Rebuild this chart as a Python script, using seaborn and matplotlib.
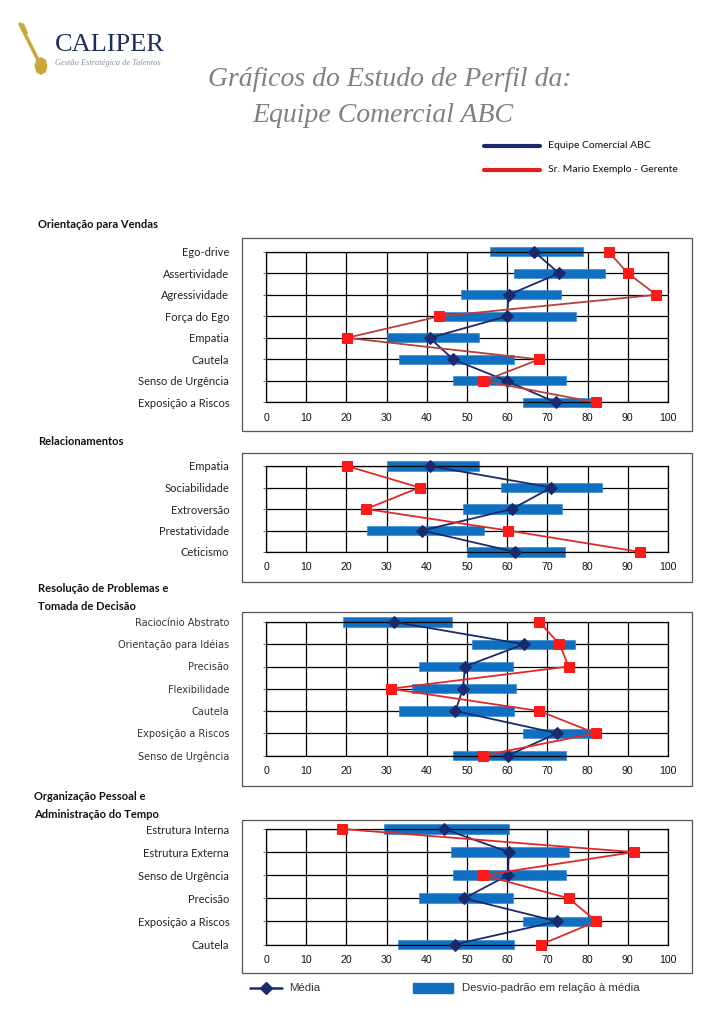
import matplotlib
matplotlib.use('Agg')
import matplotlib.pyplot as plt
from matplotlib.lines import Line2D
from matplotlib.patches import Rectangle, RegularPolygon
import seaborn as sns

# Orientação para Vendas
cats1 = ['Ego-drive', 'Assertividade', 'Agressividade', 'Força do Ego',
         'Empatia', 'Cautela', 'Senso de Urgência', 'Exposição a Riscos']
media1 = [66.7, 72.9, 60.4, 59.9, 40.7, 46.6, 59.9, 72.1]
lo1 = [55.8, 61.7, 48.5, 44.0, 30.0, 33.0, 46.4, 63.9]
hi1 = [78.8, 84.4, 73.4, 77.2, 53.0, 61.7, 74.6, 80.9]
ger1 = [85.2, 90.0, 97.1, 43.1, 20.1, 68.0, 54.1, 82.2]

# Relacionamentos
cats2 = ['Empatia', 'Sociabilidade', 'Extroversão', 'Prestatividade', 'Ceticismo']
media2 = [40.8, 71.0, 61.2, 38.9, 62.0]
lo2 = [30.0, 58.4, 48.9, 25.0, 50.0]
hi2 = [53.0, 83.7, 73.6, 54.3, 74.3]
ger2 = [20.1, 38.2, 24.9, 60.2, 93.1]

# Resolução de Problemas e Tomada de Decisão
cats3 = ['Raciocínio Abstrato', 'Orientação para Idéias', 'Precisão', 'Flexibilidade',
         'Cautela', 'Exposição a Riscos', 'Senso de Urgência']
media3 = [31.9, 64.1, 49.5, 49.0, 47.1, 72.4, 60.2]
lo3 = [19.1, 51.2, 38.0, 36.3, 33.0, 63.9, 46.4]
hi3 = [46.2, 76.9, 61.4, 62.2, 61.7, 81.5, 74.6]
ger3 = [68.0, 73.0, 75.3, 31.0, 68.0, 82.0, 54.1]

# Organização Pessoal e Administração do Tempo
cats4 = ['Estrutura Interna', 'Estrutura Externa', 'Senso de Urgência', 'Precisão',
         'Exposição a Riscos', 'Cautela']
media4 = [44.3, 60.4, 60.2, 49.3, 72.4, 46.9]
lo4 = [29.4, 46.1, 46.4, 38.0, 63.9, 32.9]
hi4 = [60.4, 75.4, 74.6, 61.4, 81.5, 61.7]
ger4 = [19.0, 91.5, 54.1, 75.3, 82.2, 68.4]

x_ticks = [0, 10, 20, 30, 40, 50, 60, 70, 80, 90, 100]

NAVY = '#1b2a6b'
BAR = '#0f6fc0'
RED = '#ff1a1a'

W, H = 728, 1030

sns.set_style('white')
plt.rcParams['font.family'] = ['Lato', 'DejaVu Sans']

fig = plt.figure(figsize=(W / 100, H / 100), dpi=100)


def fx(x):
    return x / W


def fy(y):
    return 1 - y / H


def panel(cats, media, lo, hi, ger, row_top, row_bot, box, label_font, redline):
    ax = fig.add_axes([fx(266), fy(row_bot), fx(668) - fx(266), (row_bot - row_top) / H])
    pos = list(range(len(cats)))
    # desvio-padrão bars
    ax.barh(pos, [h - l for l, h in zip(lo, hi)], left=lo, height=0.42,
            color=BAR, edgecolor='#3a8ad0', linewidth=0.5, clip_on=False, zorder=2)
    sns.lineplot(x=media, y=pos, sort=False, orient='y', ax=ax, color=NAVY, lw=1.3,
                 marker='D', markersize=6.5, markerfacecolor=NAVY, markeredgecolor=NAVY,
                 clip_on=False, zorder=3)
    sns.lineplot(x=ger, y=pos, sort=False, orient='y', ax=ax, color=redline, lw=1.3,
                 marker='s', markersize=7, markerfacecolor=RED, markeredgecolor=RED,
                 clip_on=False, zorder=4)
    ax.set_xlim(0, 100)
    ax.set_ylim(len(cats) - 1, 0)
    ax.set_xticks(x_ticks)
    ax.set_yticks(pos)
    ax.set_yticklabels(cats, **label_font)
    ax.set_xticklabels([str(t) for t in x_ticks], fontsize=7.6, family='Liberation Sans',
                       color='#111111')
    ax.tick_params(axis='x', length=0, pad=7.5)
    ax.tick_params(axis='y', length=2.5, width=0.6, direction='out', color='#555555', pad=24,
                   left=True)
    ax.grid(True, color='black', lw=0.9)
    ax.set_axisbelow(True)
    for s in ax.spines.values():
        s.set_color('black')
        s.set_linewidth(0.9)
    ax.set_xlabel('')
    ax.set_ylabel('')
    x0, y0, x1, y1 = box
    fig.add_artist(Rectangle((fx(x0), fy(y1)), fx(x1) - fx(x0), (y1 - y0) / H,
                             transform=fig.transFigure, fill=False,
                             edgecolor='#555555', lw=0.9))
    return ax


calibri = dict(fontsize=8, family=['Lato', 'DejaVu Sans'], color='#222222')
verdana = dict(fontsize=7, family='DejaVu Sans', color='#333333')

panel(cats1, media1, lo1, hi1, ger1, 251.7, 402.5, (242, 238, 692, 431), calibri, '#b8403a')
panel(cats2, media2, lo2, hi2, ger2, 466, 552, (242, 453, 692, 582), calibri, '#e02a2a')
panel(cats3, media3, lo3, hi3, ger3, 622, 755.5, (242, 612, 692, 786), verdana, '#e02a2a')
panel(cats4, media4, lo4, hi4, ger4, 829, 944.5, (242, 820, 692, 973), calibri, '#e02a2a')

# section titles
sect = dict(fontsize=8, fontweight='bold', color='#111111', va='center', ha='left')
fig.text(fx(38), fy(224), 'Orientação para Vendas', **sect)
fig.text(fx(38), fy(441), 'Relacionamentos', **sect)
fig.text(fx(38), fy(588), 'Resolução de Problemas e', **sect)
fig.text(fx(38), fy(606), 'Tomada de Decisão', **sect)
fig.text(fx(34), fy(797), 'Organização Pessoal e', **sect)
fig.text(fx(34), fy(815), 'Administração do Tempo', **sect)

# header title
title = dict(fontsize=20, style='italic', family='Liberation Serif', color='#808080',
             ha='center', va='center')
fig.text(fx(390), fy(80), 'Gráficos do Estudo de Perfil da:', **title)
fig.text(fx(383), fy(116), 'Equipe Comercial ABC', **title)

# logo
fig.text(fx(55), fy(45), 'CALIPER', fontsize=19, family='Liberation Serif',
         color='#1f2d5c', va='center', ha='left')
fig.text(fx(55), fy(63), 'Gestão Estratégica de Talentos', fontsize=6, style='italic',
         family='Liberation Serif', color='#8a8f9c', va='center', ha='left')
fig.add_artist(Line2D([fx(20), fx(40)], [fy(24), fy(64)], transform=fig.transFigure,
                      color='#c9a83a', lw=2.5))
fig.add_artist(Line2D([fx(23), fx(27)], [fy(24), fy(33)], transform=fig.transFigure,
                      color='#c9a83a', lw=1.5))
fig.add_artist(RegularPolygon((fx(41), fy(66)), 8, radius=0.008, transform=fig.transFigure,
                              color='#c9a83a'))

# top legend
fig.add_artist(Line2D([fx(484), fx(540)], [fy(146), fy(146)], transform=fig.transFigure,
                      color=NAVY, lw=3))
fig.add_artist(Line2D([fx(484), fx(540)], [fy(170), fy(170)], transform=fig.transFigure,
                      color='#e02020', lw=3))
fig.text(fx(548), fy(146), 'Equipe Comercial ABC', fontsize=7.5, color='#111111', va='center')
fig.text(fx(548), fy(170), 'Sr. Mario Exemplo - Gerente', fontsize=7.5, color='#111111',
         va='center')

# bottom legend
fig.add_artist(Line2D([fx(250), fx(282)], [fy(988), fy(988)], transform=fig.transFigure,
                      color=NAVY, lw=1.8))
fig.add_artist(Line2D([fx(266)], [fy(988)], transform=fig.transFigure, color=NAVY,
                      marker='D', markersize=6.5))
fig.text(fx(289), fy(988), 'Média', fontsize=8.2, family='Liberation Sans', color='#333333',
         va='center')
fig.add_artist(Rectangle((fx(413), fy(993)), fx(453) - fx(413), 10 / H,
                         transform=fig.transFigure, color=BAR))
fig.text(fx(462), fy(988), 'Desvio-padrão em relação à média', fontsize=8.2,
         family='Liberation Sans', color='#333333', va='center')

fig.savefig('out.png', dpi=100)
